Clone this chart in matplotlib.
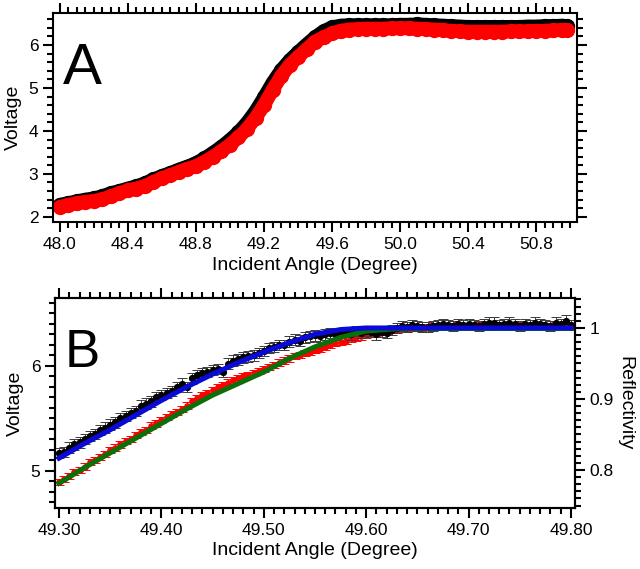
import matplotlib.pyplot as plt
from matplotlib.ticker import MultipleLocator, FormatStrFormatter, FixedLocator
import numpy as np

plt.rcParams['font.family'] = ['Liberation Sans', 'DejaVu Sans']

# ---- panel A : full scan ----
angle_a = [48.00, 48.05, 48.10, 48.15, 48.20, 48.25, 48.30, 48.35, 48.40, 48.45,
           48.50, 48.55, 48.60, 48.65, 48.70, 48.75, 48.80, 48.85, 48.90, 48.95,
           49.00, 49.05, 49.10, 49.15, 49.20, 49.25, 49.30, 49.35, 49.40, 49.45,
           49.50, 49.55, 49.60, 49.65, 49.70, 49.75, 49.80, 49.85, 49.90, 49.95,
           50.00, 50.05, 50.10, 50.15, 50.20, 50.25, 50.30, 50.35, 50.40, 50.45,
           50.50, 50.55, 50.60, 50.65, 50.70, 50.75, 50.80, 50.85, 50.90, 50.95, 50.98]
volt_a_black = [2.28, 2.32, 2.36, 2.40, 2.43, 2.48, 2.55, 2.60, 2.66, 2.71,
                2.78, 2.87, 2.95, 3.02, 3.10, 3.17, 3.25, 3.36, 3.49, 3.63,
                3.79, 3.97, 4.19, 4.46, 4.78, 5.12, 5.41, 5.64, 5.83, 6.01,
                6.18, 6.32, 6.41, 6.45, 6.46, 6.46, 6.46, 6.46, 6.46, 6.46,
                6.47, 6.47, 6.48, 6.47, 6.46, 6.45, 6.44, 6.43, 6.42, 6.42,
                6.42, 6.42, 6.42, 6.42, 6.42, 6.43, 6.43, 6.44, 6.44, 6.45, 6.44]
volt_a_red = [2.23, 2.28, 2.32, 2.35, 2.37, 2.41, 2.48, 2.55, 2.62, 2.66,
              2.72, 2.81, 2.90, 2.97, 3.05, 3.12, 3.18, 3.28, 3.40, 3.53,
              3.68, 3.85, 4.05, 4.30, 4.60, 4.95, 5.27, 5.53, 5.72, 5.90,
              6.08, 6.18, 6.27, 6.33, 6.36, 6.37, 6.38, 6.38, 6.38, 6.39,
              6.39, 6.39, 6.38, 6.37, 6.36, 6.35, 6.33, 6.32, 6.31, 6.31,
              6.31, 6.31, 6.31, 6.32, 6.32, 6.32, 6.33, 6.33, 6.34, 6.35, 6.35]

# ---- panel B : zoom on the edge, with fits ----
angle_b = np.round(np.linspace(49.30, 49.80, 101), 3)
volt_b_black = [5.17, 5.18, 5.22, 5.25, 5.27, 5.30, 5.33, 5.35, 5.39, 5.41,
                5.44, 5.46, 5.50, 5.52, 5.55, 5.57, 5.62, 5.64, 5.66, 5.70,
                5.72, 5.74, 5.76, 5.80, 5.83, 5.80, 5.88, 5.91, 5.93, 5.94,
                5.96, 5.97, 5.94, 6.02, 6.05, 6.06, 6.08, 6.09, 6.10, 6.12,
                6.14, 6.17, 6.18, 6.20, 6.20, 6.23, 6.25, 6.24, 6.27, 6.28,
                6.29, 6.28, 6.30, 6.31, 6.30, 6.31, 6.32, 6.30, 6.33, 6.31,
                6.33, 6.32, 6.30, 6.32, 6.31, 6.34, 6.36, 6.38, 6.37, 6.39,
                6.38, 6.37, 6.37, 6.38, 6.39, 6.40, 6.39, 6.38, 6.40, 6.39,
                6.40, 6.39, 6.38, 6.40, 6.41, 6.41, 6.39, 6.40, 6.41, 6.40,
                6.38, 6.40, 6.39, 6.41, 6.40, 6.39, 6.38, 6.41, 6.40, 6.43, 6.39]
volt_b_red = [4.89, 4.92, 4.95, 4.99, 5.01, 5.04, 5.08, 5.10, 5.13, 5.16,
              5.20, 5.22, 5.25, 5.28, 5.30, 5.34, 5.37, 5.39, 5.43, 5.45,
              5.48, 5.51, 5.54, 5.56, 5.59, 5.62, 5.66, 5.69, 5.72, 5.74,
              5.77, 5.80, 5.82, 5.84, 5.86, 5.88, 5.90, 5.91, 5.93, 5.95,
              5.97, 5.99, 6.01, 6.03, 6.05, 6.07, 6.09, 6.10, 6.12, 6.13,
              6.15, 6.16, 6.18, 6.20, 6.22, 6.23, 6.24, 6.26, 6.27, 6.28,
              6.29, 6.31, 6.31, 6.32, 6.33, 6.34, 6.35, 6.36, 6.35, 6.36,
              6.37, 6.36, 6.37, 6.38, 6.37, 6.38, 6.37, 6.38, 6.39, 6.38,
              6.37, 6.38, 6.39, 6.38, 6.37, 6.38, 6.39, 6.38, 6.37, 6.38,
              6.39, 6.38, 6.37, 6.38, 6.39, 6.38, 6.38, 6.39, 6.38, 6.39, 6.38]
err_black = 0.05
err_red = 0.03

fit_angle = [49.300, 49.325, 49.350, 49.375, 49.400, 49.425, 49.450, 49.475,
             49.500, 49.525, 49.550, 49.575, 49.600, 49.625, 49.650, 49.700, 49.800]
fit_blue = [5.12, 5.26, 5.39, 5.53, 5.67, 5.80, 5.92, 6.03,
            6.13, 6.22, 6.30, 6.345, 6.36, 6.36, 6.36, 6.36, 6.36]
fit_green = [4.88, 5.03, 5.17, 5.31, 5.45, 5.59, 5.72, 5.83,
             5.94, 6.07, 6.18, 6.27, 6.33, 6.35, 6.355, 6.355, 6.355]

fig = plt.figure(figsize=(6.4, 5.69), dpi=100)
axA = fig.add_axes([0.0828, 0.6098, 0.819, 0.367])
axB = fig.add_axes([0.0859, 0.1072, 0.8125, 0.369])


def style_ticks(ax, right=True):
    for s in ax.spines.values():
        s.set_linewidth(1.5)
    ax.tick_params(which='both', direction='out', top=True, right=right,
                   labelsize=12.5, width=1.5)
    ax.tick_params(which='major', length=7)
    ax.tick_params(which='minor', length=4)


# panel A
axA.plot(angle_a, volt_a_black, color='black', lw=10, marker='o', ms=10,
         solid_capstyle='round', solid_joinstyle='round')
axA.plot(angle_a, volt_a_red, color='red', lw=10, marker='o', ms=10,
         solid_capstyle='round', solid_joinstyle='round')
axA.set_xlim(47.96, 51.04)
axA.set_ylim(1.88, 6.74)
axA.xaxis.set_major_locator(MultipleLocator(0.4))
axA.xaxis.set_minor_locator(MultipleLocator(0.05))
axA.xaxis.set_major_formatter(FormatStrFormatter('%.1f'))
axA.yaxis.set_major_locator(MultipleLocator(1))
axA.yaxis.set_minor_locator(MultipleLocator(0.2))
style_ticks(axA)
axA.set_xlabel('Incident Angle (Degree)', fontsize=14, labelpad=4)
axA.set_ylabel('Voltage', fontsize=14, labelpad=5)
axA.text(0.018, 0.66, 'A', transform=axA.transAxes, fontsize=42)

# panel B
axB.errorbar(angle_b, volt_b_red, yerr=err_red, fmt='o', ms=3.8, color='red',
             ecolor='red', elinewidth=0.7, capsize=3.5, capthick=0.7, zorder=2)
axB.errorbar(angle_b, volt_b_black, yerr=err_black, fmt='o', ms=4.2, color='black',
             ecolor='#3a3a3a', elinewidth=0.7, capsize=3.5, capthick=0.7, zorder=3)
axB.plot(fit_angle, fit_green, color='#0a700a', lw=3.6, zorder=4)
axB.plot(fit_angle, fit_blue, color='#0a0ad8', lw=3.6, zorder=5)
axB.set_xlim(49.296, 49.804)
axB.set_ylim(4.645, 6.645)
axB.xaxis.set_major_locator(MultipleLocator(0.1))
axB.xaxis.set_minor_locator(MultipleLocator(0.01))
axB.xaxis.set_major_formatter(FormatStrFormatter('%.2f'))
axB.yaxis.set_major_locator(FixedLocator([5, 6]))
axB.yaxis.set_minor_locator(MultipleLocator(0.1))
style_ticks(axB, right=False)
axB.set_xlabel('Incident Angle (Degree)', fontsize=14, labelpad=3)
axB.set_ylabel('Voltage', fontsize=14, labelpad=5)
axB.text(0.018, 0.67, 'B', transform=axB.transAxes, fontsize=38)

axR = axB.twinx()
axR.set_ylim(0.7465, 1.042)
axR.yaxis.set_major_locator(FixedLocator([0.8, 0.9, 1.0]))
axR.yaxis.set_minor_locator(MultipleLocator(0.01))
axR.yaxis.set_major_formatter(plt.FuncFormatter(lambda v, p: ('%g' % round(v, 2))))
for s in axR.spines.values():
    s.set_linewidth(1.5)
axR.tick_params(which='both', direction='out', labelsize=12.5, width=1.5)
axR.tick_params(which='major', length=7)
axR.tick_params(which='minor', length=4)
axR.set_ylabel('Reflectivity', fontsize=14, rotation=-90, labelpad=14)

fig.savefig('out.png', dpi=100)
